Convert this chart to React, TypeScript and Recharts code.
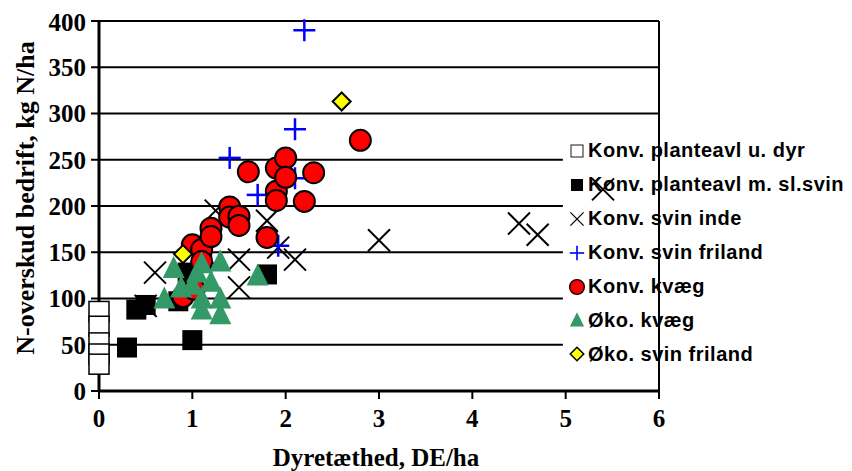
import React from 'react';
import {
  ScatterChart,
  Scatter,
  XAxis,
  YAxis,
  CartesianGrid,
  Legend,
  ReferenceArea,
  ReferenceLine,
} from 'recharts';

// Axis ticks
const densityTicks = [0, 1, 2, 3, 4, 5, 6];
const surplusTicks = [0, 50, 100, 150, 200, 250, 300, 350, 400];

// Series: x = Dyretæthed (DE/ha), y = N-overskud (kg N/ha)
const planteavlUdenDyr = [
  { x: 0, y: 86 },
  { x: 0, y: 70 },
  { x: 0, y: 52 },
  { x: 0, y: 40 },
  { x: 0, y: 29 },
];

const planteavlSlagtesvin = [
  { x: 0.3, y: 47 },
  { x: 0.4, y: 88 },
  { x: 0.5, y: 93 },
  { x: 1.0, y: 55 },
  { x: 1.8, y: 126 },
  { x: 0.85, y: 97 },
  { x: 0.95, y: 128 },
];

const svinInde = [
  { x: 0.6, y: 128 },
  { x: 0.5, y: 92 },
  { x: 1.25, y: 195 },
  { x: 1.5, y: 142 },
  { x: 1.5, y: 112 },
  { x: 1.8, y: 184 },
  { x: 1.92, y: 155 },
  { x: 2.1, y: 142 },
  { x: 3.0, y: 163 },
  { x: 4.5, y: 181 },
  { x: 4.7, y: 169 },
  { x: 5.4, y: 218 },
];

const svinFriland = [
  { x: 2.2, y: 390 },
  { x: 2.1, y: 283 },
  { x: 1.4, y: 252 },
  { x: 1.7, y: 212 },
  { x: 2.1, y: 230 },
  { x: 1.92, y: 157 },
  { x: 1.2, y: 138 },
];

const konvKvaeg = [
  { x: 0.9, y: 102 },
  { x: 1.02, y: 110 },
  { x: 1.0, y: 158 },
  { x: 1.1, y: 153 },
  { x: 1.1, y: 140 },
  { x: 1.2, y: 176 },
  { x: 1.2, y: 167 },
  { x: 1.4, y: 199 },
  { x: 1.4, y: 188 },
  { x: 1.5, y: 189 },
  { x: 1.5, y: 179 },
  { x: 1.6, y: 237 },
  { x: 1.8, y: 166 },
  { x: 1.9, y: 241 },
  { x: 1.9, y: 216 },
  { x: 1.9, y: 206 },
  { x: 2.0, y: 252 },
  { x: 2.0, y: 231 },
  { x: 2.2, y: 205 },
  { x: 2.3, y: 236 },
  { x: 2.8, y: 271 },
];

const oekoKvaeg = [
  { x: 0.8, y: 133 },
  { x: 0.7, y: 100 },
  { x: 0.88, y: 112 },
  { x: 1.0, y: 115 },
  { x: 1.05, y: 128 },
  { x: 1.1, y: 138 },
  { x: 1.2, y: 118 },
  { x: 1.1, y: 100 },
  { x: 1.1, y: 88 },
  { x: 1.3, y: 140 },
  { x: 1.3, y: 100 },
  { x: 1.3, y: 83 },
  { x: 1.7, y: 125 },
];

const oekoSvinFriland = [
  { x: 0.9, y: 148 },
  { x: 2.6, y: 313 },
];

const SERIF = '"Liberation Serif", "Times New Roman", serif';
const SANS = '"Liberation Sans", Arial, sans-serif';
const GREEN = '#339966';
const BLUE = '#0000ff';

// Marker glyphs
const OpenSquare = ({ cx, cy }: any) => (
  <rect x={cx - 10} y={cy - 10} width={20} height={20} fill="#fff" stroke="#000" strokeWidth={1.5} />
);
const FilledSquare = ({ cx, cy }: any) => (
  <rect x={cx - 10} y={cy - 10} width={20} height={20} fill="#000" />
);
const Cross = ({ cx, cy }: any) => (
  <g stroke="#000" strokeWidth={2}>
    <line x1={cx - 11} y1={cy - 11} x2={cx + 11} y2={cy + 11} />
    <line x1={cx - 11} y1={cy + 11} x2={cx + 11} y2={cy - 11} />
  </g>
);
const Plus = ({ cx, cy }: any) => (
  <g stroke={BLUE} strokeWidth={2.5}>
    <line x1={cx - 11} y1={cy} x2={cx + 11} y2={cy} />
    <line x1={cx} y1={cy - 11} x2={cx} y2={cy + 11} />
  </g>
);
const RedDot = ({ cx, cy }: any) => (
  <circle cx={cx} cy={cy} r={10.5} fill="#ff0000" stroke="#000" strokeWidth={2} />
);
const Triangle = ({ cx, cy }: any) => (
  <path d={`M${cx},${cy - 12} L${cx + 11},${cy + 10} L${cx - 11},${cy + 10} Z`} fill={GREEN} />
);
const Diamond = ({ cx, cy }: any) => (
  <path
    d={`M${cx},${cy - 9} L${cx + 9},${cy} L${cx},${cy + 9} L${cx - 9},${cy} Z`}
    fill="#ffff00"
    stroke="#000"
    strokeWidth={2}
  />
);

const legendItems = [
  { name: 'Konv. planteavl u. dyr', Icon: OpenSquare, scale: 0.6 },
  { name: 'Konv. planteavl m. sl.svin', Icon: FilledSquare, scale: 0.6 },
  { name: 'Konv. svin inde', Icon: Cross, scale: 0.6 },
  { name: 'Konv. svin friland', Icon: Plus, scale: 0.65 },
  { name: 'Konv. kvæg', Icon: RedDot, scale: 0.7 },
  { name: 'Øko. kvæg', Icon: Triangle, scale: 0.65 },
  { name: 'Øko. svin friland', Icon: Diamond, scale: 0.75 },
];

const renderLegend = () => (
  <div style={{ fontFamily: SANS, fontWeight: 700, fontSize: 20, letterSpacing: 0.5, color: '#000' }}>
    {legendItems.map(({ name, Icon, scale }) => (
      <div key={name} style={{ display: 'flex', alignItems: 'center', height: 33.9, whiteSpace: 'nowrap' }}>
        <svg width={18} height={20} style={{ marginRight: 2 }}>
          <g transform={`translate(9,10) scale(${scale})`}>
            <Icon cx={0} cy={0} />
          </g>
        </svg>
        <span>{name}</span>
      </div>
    ))}
  </div>
);

const tickStyle = { fontFamily: SERIF, fontWeight: 700, fontSize: 25, fill: '#000' };

const YTitle = (props: any) => {
  const vb = props.viewBox || {};
  const cx = 17;
  const cy = (vb.y ?? 13) + (vb.height ?? 370) / 2 - 8;
  return (
    <text
      x={cx}
      y={cy}
      transform={`rotate(-90 ${cx} ${cy})`}
      textAnchor="middle"
      dominantBaseline="central"
      style={{ fontFamily: SERIF, fontWeight: 700, fontSize: 26, fill: '#000' }}
    >
      N-overskud bedrift, kg N/ha
    </text>
  );
};

const XTitle = (props: any) => {
  const vb = props.viewBox || {};
  const cx = (vb.x ?? 91) + (vb.width ?? 560) / 2 - 3;
  return (
    <text
      x={cx}
      y={458}
      textAnchor="middle"
      style={{ fontFamily: SERIF, fontWeight: 700, fontSize: 25, fill: '#000' }}
    >
      Dyretæthed, DE/ha
    </text>
  );
};

export default function App() {
  return (
    <ScatterChart
      width={844}
      height={463}
      margin={{ top: 13, right: 193, bottom: 0, left: 0 }}
    >
      <CartesianGrid horizontal vertical={false} stroke="#000" strokeWidth={2} />
      <XAxis
        type="number"
        dataKey="x"
        domain={[0, 6]}
        ticks={densityTicks}
        height={80}
        axisLine={{ stroke: '#000', strokeWidth: 3 }}
        tickLine={{ stroke: '#000', strokeWidth: 2 }}
        tickSize={8}
        tickMargin={10}
        tick={tickStyle}
        label={<XTitle />}
      />
      <YAxis
        type="number"
        dataKey="y"
        domain={[0, 400]}
        ticks={surplusTicks}
        width={91}
        axisLine={{ stroke: '#000', strokeWidth: 3 }}
        tickLine={{ stroke: '#000', strokeWidth: 2 }}
        tickSize={8}
        tickMargin={5}
        tick={tickStyle}
        label={<YTitle />}
      />
      <ReferenceLine segment={[{ x: 6, y: 0 }, { x: 6, y: 400 }]} stroke="#000" strokeWidth={2} />
      {/* legend panel background sits on the plot area */}
      <ReferenceArea x1={4.97} x2={6} y1={20} y2={281} fill="#fff" fillOpacity={1} stroke="none" ifOverflow="visible" />
      <Scatter name="Konv. planteavl u. dyr" data={planteavlUdenDyr} shape={OpenSquare} isAnimationActive={false} />
      <Scatter name="Konv. planteavl m. sl.svin" data={planteavlSlagtesvin} shape={FilledSquare} isAnimationActive={false} />
      <Scatter name="Konv. svin inde" data={svinInde} shape={Cross} isAnimationActive={false} />
      <Scatter name="Konv. svin friland" data={svinFriland} shape={Plus} isAnimationActive={false} />
      <Scatter name="Konv. kvæg" data={konvKvaeg} shape={RedDot} isAnimationActive={false} />
      <Scatter name="Øko. kvæg" data={oekoKvaeg} shape={Triangle} isAnimationActive={false} />
      <Scatter name="Øko. svin friland" data={oekoSvinFriland} shape={Diamond} isAnimationActive={false} />
      <Legend
        layout="vertical"
        align="center"
        verticalAlign="middle"
        content={renderLegend}
        wrapperStyle={{ left: 560, top: 126, width: 292, height: 'auto' }}
      />
    </ScatterChart>
  );
}
